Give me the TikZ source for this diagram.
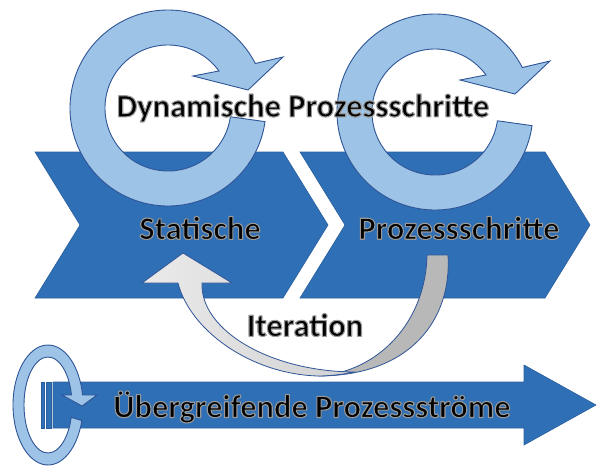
\documentclass[tikz,border=0pt]{standalone}
\usepackage{fontspec}
\setmainfont{Carlito}
\definecolor{chevblue}{HTML}{2F6FB5}
\definecolor{chevedge}{HTML}{2A5F9E}
\definecolor{ringblue}{HTML}{9DC3E6}
\definecolor{ringedge}{HTML}{2F5597}
\definecolor{backgray}{HTML}{B8B8B8}
% black lettering with a grey outline (fill + stroke text rendering)
\newcommand\haloed[1]{\special{pdf:literal direct 2 Tr 1.1 w 1 j 0.6 G}#1\special{pdf:literal direct 0 Tr 0 G}}
\begin{document}
\begin{tikzpicture}[x=1pt,y=-1pt,
  stepfill/.style={fill=chevblue,draw=chevedge,line width=0.6pt,line join=miter},
  ringfill/.style={fill=ringblue,draw=ringedge,line width=0.9pt,line join=miter},
  iterback/.style={fill=backgray,draw=ringedge,line width=0.8pt},
  iterfront/.style={left color=white!92!black,right color=white!82!black,draw=ringedge,line width=0.8pt,line join=miter},
  lbl/.style={font=\fontsize{32.5}{36}\bfseries\selectfont,inner sep=0pt,text=black},
]
\useasboundingbox (0,0) rectangle (597,466);

% the two static process steps
\path[stepfill] (35,152) -- (283,152) -- (328,225) -- (283,298) -- (35,298) -- (80,225) -- cycle;
\path[stepfill] (300,152) -- (545,152) -- (590,225) -- (545,298) -- (300,298) -- (345,225) -- cycle;

% circular arrows of the dynamic steps
\begin{scope}[shift={(168,108)}]
  \path[ringfill] (8:98) arc[start angle=8,end angle=333,radius=98]
    -- (115,-51) -- (80,-18) -- (25,-32)
    -- (324:63) arc[start angle=324,end angle=8,radius=63] -- cycle;
\end{scope}
\begin{scope}[shift={(435,112)}]
  \path[ringfill] (8:98) arc[start angle=8,end angle=333,radius=98]
    -- (115,-51) -- (80,-18) -- (25,-32)
    -- (324:63) arc[start angle=324,end angle=8,radius=63] -- cycle;
\end{scope}

\node[lbl] (dyn) at (303,108) {\haloed{Dynamische Prozessschritte}};
\node[lbl] (stat) at (200,228) {\haloed{Statische}};
\node[lbl] (proz) at (459,228) {\haloed{Prozessschritte}};

% iteration: curved arrow from the second step back to the first
\path[iterback] (448,255) .. controls (452,320) and (410,376) .. (318,376)
  .. controls (380,372) and (426,320) .. (427,255) -- cycle;
\path[iterfront] (202,283) -- (232,283) -- (183,253) -- (142,283) -- (178,283)
  .. controls (190,330) and (250,374) .. (318,376)
  .. controls (330,376) and (345,374) .. (356,372)
  .. controls (270,372) and (200,330) .. (202,283) -- cycle;
\node[lbl] (iter) at (305,325) {\haloed{Iteration}};

% overarching process stream
\path[stepfill] (41,382) rectangle (44.5,428);
\path[stepfill] (46.5,382) rectangle (51,428);
\path[stepfill] (53,382) -- (524,382) -- (524,365) -- (596,405) -- (524,445) -- (524,428) -- (53,428) -- cycle;
\begin{scope}[shift={(48,405)}]
  \path[ringfill] (15:35 and 60) arc[start angle=15,end angle=350.4,x radius=35,y radius=60]
    -- (49,-10) -- (34,1) -- (14,-10)
    -- (348:24 and 48) arc[start angle=348,end angle=15,x radius=24,y radius=48] -- cycle;
\end{scope}
\node[lbl] (ueber) at (312,407) {\haloed{Übergreifende Prozessströme}};
\end{tikzpicture}
\end{document}
